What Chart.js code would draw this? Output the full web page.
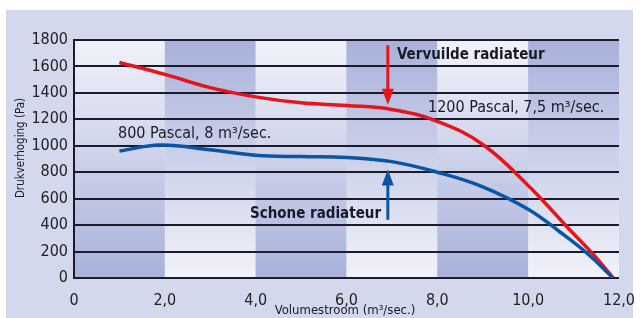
<!DOCTYPE html>
<html>
<head>
<meta charset="utf-8">
<script src="https://cdn.jsdelivr.net/npm/chart.js@4/dist/chart.umd.min.js"></script>
<style>
  html, body { margin: 0; padding: 0; background: #fff; }
  #wrap { width: 642px; height: 318px; }
</style>
</head>
<body>
<div id="wrap"><canvas id="chart" width="642" height="318"></canvas></div>
<script>
const FONT_FAMILY = '"Liberation Sans Narrow", "DejaVu Sans Condensed", Lato, sans-serif';

// data
const redX = [1, 2, 3, 4, 5, 6, 7, 8, 9, 10, 10.92, 11.43, 11.87];
const redY = [1630, 1540, 1440, 1370, 1325, 1305, 1275, 1185, 1010, 700, 363, 180, 0];
const blueX = [1, 1.9, 3, 4, 5, 6, 7, 8, 9, 10, 10.7, 11.29, 11.87];
const blueY = [960, 1005, 970, 928, 918, 912, 880, 800, 690, 520, 348, 189, 0];
const xTicks = [0, 2, 4, 6, 8, 10, 12];
const yTicks = [0, 200, 400, 600, 800, 1000, 1200, 1400, 1600, 1800];

function toPoints(xs, ys) {
    return xs.map((x, i) => ({ x: x, y: ys[i] }));
}

function arrow(ctx, x, y0, y1, color) {
    const dir = y1 > y0 ? 1 : -1;
    ctx.save();
    ctx.strokeStyle = color;
    ctx.fillStyle = color;
    ctx.lineWidth = 3;
    ctx.beginPath();
    ctx.moveTo(x, y0);
    ctx.lineTo(x, y1 - dir * 12);
    ctx.stroke();
    ctx.beginPath();
    ctx.moveTo(x, y1);
    ctx.lineTo(x - 6, y1 - dir * 16);
    ctx.lineTo(x + 6, y1 - dir * 16);
    ctx.closePath();
    ctx.fill();
    ctx.restore();
}

const backdrop = {
    id: 'backdrop',
    beforeDraw(chart) {
        const ctx = chart.ctx;
        const xs = chart.scales.x, ys = chart.scales.y;
        const top = ys.getPixelForValue(1800), bottom = ys.getPixelForValue(0);
        ctx.save();
        ctx.fillStyle = '#ffffff';
        ctx.fillRect(0, 0, chart.width, chart.height);
        ctx.fillStyle = '#d3d8ec';
        ctx.fillRect(6, 10, 627, 308);
        for (let i = 0; i < xTicks.length - 1; i++) {
            const l = xs.getPixelForValue(xTicks[i]);
            const r = xs.getPixelForValue(xTicks[i + 1]);
            const g = ctx.createLinearGradient(0, top, 0, bottom);
            if (i % 2 === 0) {
                g.addColorStop(0, '#f1f2f9');
                g.addColorStop(1, '#a8b1da');
            } else {
                g.addColorStop(0, '#a8b1da');
                g.addColorStop(1, '#f1f2f9');
            }
            ctx.fillStyle = g;
            ctx.fillRect(l, top, r - l, bottom - top);
        }
        ctx.restore();
    },
    afterDatasetsDraw(chart) {
        const ctx = chart.ctx;
        const xs = chart.scales.x, ys = chart.scales.y;
        const ax = xs.getPixelForValue(6.91);
        arrow(ctx, ax, ys.getPixelForValue(1760), ys.getPixelForValue(1310), '#e8141c');
        arrow(ctx, ax, ys.getPixelForValue(440), ys.getPixelForValue(820), '#0a55a5');

        ctx.save();
        ctx.fillStyle = '#1a1a26';
        ctx.textBaseline = 'middle';
        ctx.textAlign = 'left';
        ctx.font = 'bold 15px ' + FONT_FAMILY;
        ctx.fillText('Vervuilde radiateur', 397, 55);
        ctx.fillText('Schone radiateur', 250, 214);
        ctx.font = '16px ' + FONT_FAMILY;
        ctx.fillText('1200 Pascal, 7,5 m³/sec.', 428, 108);
        ctx.fillText('800 Pascal, 8 m³/sec.', 118, 134);

        ctx.font = '13px ' + FONT_FAMILY;
        ctx.textAlign = 'center';
        ctx.fillText('Volumestroom (m³/sec.)', 345, 311);
        ctx.font = '11.5px ' + FONT_FAMILY;
        ctx.translate(21, 148);
        ctx.rotate(-Math.PI / 2);
        ctx.fillText('Drukverhoging (Pa)', 0, 0);
        ctx.restore();
    }
};

const config = {
    type: 'line',
    data: {
        datasets: [{
            label: 'Schone radiateur',
            data: toPoints(blueX, blueY),
            borderColor: '#0a55a5',
            borderWidth: 3.5,
            pointRadius: 0,
            tension: 0.4,
        }, {
            label: 'Vervuilde radiateur',
            data: toPoints(redX, redY),
            borderColor: '#e8141c',
            borderWidth: 3.5,
            pointRadius: 0,
            tension: 0.4,
        }],
    },
    options: {
        responsive: false,
        animation: false,
        layout: { padding: { top: 40, right: 23, left: 0, bottom: 0 } },
        plugins: {
            legend: { display: false },
            tooltip: { enabled: false },
        },
        scales: {
            x: {
                type: 'linear',
                min: 0,
                max: 12,
                afterFit: (s) => { s.height = 40; },
                afterBuildTicks: (s) => { s.ticks = xTicks.map(v => ({ value: v })); },
                ticks: {
                    padding: 5,
                    color: '#222',
                    font: { family: FONT_FAMILY, size: 16 },
                    callback: (v) => v === 0 ? '0' : v.toFixed(1).replace('.', ','),
                },
                grid: { display: false },
                border: { display: false },
            },
            y: {
                min: 0,
                max: 1800,
                afterFit: (s) => { s.width = 74; },
                afterBuildTicks: (s) => { s.ticks = yTicks.map(v => ({ value: v })); },
                ticks: {
                    padding: 6,
                    color: '#222',
                    font: { family: FONT_FAMILY, size: 16 },
                    callback: (v) => String(v),
                },
                grid: { color: '#1b1b2b', lineWidth: 2, drawTicks: false },
                border: { color: '#1b1b2b', width: 2 },
            },
        },
    },
    plugins: [backdrop],
};

new Chart(document.getElementById('chart'), config);
</script>
</body>
</html>
